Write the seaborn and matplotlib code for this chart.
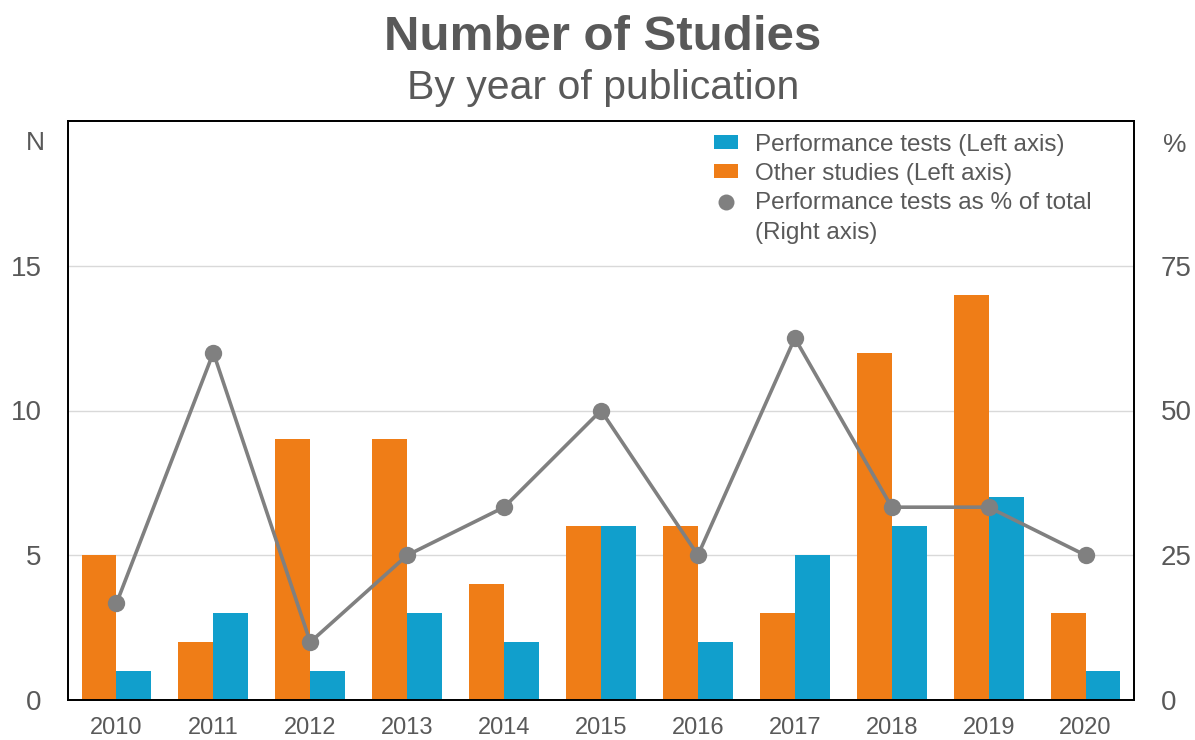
import matplotlib
matplotlib.use("Agg")
import matplotlib.pyplot as plt
import seaborn as sns
import pandas as pd
from matplotlib.patches import Patch
from matplotlib.lines import Line2D

years = ["2010", "2011", "2012", "2013", "2014", "2015", "2016", "2017", "2018", "2019", "2020"]
other_studies = [5, 2, 9, 9, 4, 6, 6, 3, 12, 14, 3]
performance_tests = [1, 3, 1, 3, 2, 6, 2, 5, 6, 7, 1]
perf_pct = [16.7, 60, 10, 25, 33.3, 50, 25, 62.5, 33.3, 33.3, 25]

ORANGE = "#EF7D17"
BLUE = "#119FCC"
GREY = "#808080"
TXT = "#595959"

sns.set_theme(style="white")
plt.rcParams["font.family"] = ["Liberation Sans", "DejaVu Sans"]

df = pd.DataFrame({
    "year": years * 2,
    "value": other_studies + performance_tests,
    "series": ["Other studies (Left axis)"] * len(years) + ["Performance tests (Left axis)"] * len(years),
})

fig = plt.figure(figsize=(11.95, 7.4), dpi=100)
ax = fig.add_axes([68 / 1195, 40 / 740, (1134 - 68) / 1195, (700 - 121) / 740])

sns.barplot(data=df, x="year", y="value", hue="series",
            hue_order=["Other studies (Left axis)", "Performance tests (Left axis)"],
            palette=[ORANGE, BLUE], width=0.72, saturation=1, ax=ax, legend=False)
for p in ax.patches:
    p.set_linewidth(0)

ax.set_xlim(-0.5, len(years) - 0.5)
ax.set_ylim(0, 20)
ax.set_yticks([0, 5, 10, 15])
ax.yaxis.grid(True, color="#d9d9d9", linewidth=1)
ax.set_axisbelow(True)
ax.set_xlabel("")
ax.set_ylabel("")
ax.tick_params(axis="y", length=0, pad=19, labelsize=20, labelcolor=TXT)
ax.tick_params(axis="x", length=0, pad=12.5, labelsize=17, labelcolor=TXT)
for s in ax.spines.values():
    s.set_color("black")
    s.set_linewidth(1.3)

ax2 = ax.twinx()
sns.lineplot(x=list(range(len(years))), y=perf_pct, ax=ax2, color=GREY,
             linewidth=2.6, marker="o", markersize=12.5, markeredgewidth=0, legend=False)
ax2.set_ylim(0, 100)
ax2.set_yticks([0, 25, 50, 75])
ax2.set_xlim(-0.5, len(years) - 0.5)
ax2.tick_params(axis="y", length=0, pad=19, labelsize=20, labelcolor=TXT)
ax2.grid(False)
for s in ax2.spines.values():
    s.set_color("black")
    s.set_linewidth(1.3)

handles = [
    Patch(facecolor=BLUE, edgecolor="none", label="Performance tests (Left axis)"),
    Patch(facecolor=ORANGE, edgecolor="none", label="Other studies (Left axis)"),
    Line2D([], [], color=GREY, marker="o", linestyle="none", markersize=11.5,
           markeredgewidth=0, label="Performance tests as % of total"),
    Line2D([], [], linestyle="none", marker=None, label="(Right axis)"),
]
leg = ax2.legend(handles=handles, loc="upper left", bbox_to_anchor=(0.606, 0.978),
                 frameon=False, fontsize=17.5, handlelength=1.0, handleheight=0.5,
                 handletextpad=0.7, labelspacing=0.3, borderpad=0, borderaxespad=0)
for t in leg.get_texts():
    t.set_color(TXT)

fig.text(603 / 1195, 1 - 37 / 740, "Number of Studies", ha="center", va="center",
         fontsize=35.5, fontweight="bold", color=TXT)
fig.text(603 / 1195, 1 - 88 / 740, "By year of publication", ha="center", va="center",
         fontsize=29.5, color=TXT)
fig.text(35 / 1195, 1 - 143 / 740, "N", ha="center", va="center", fontsize=19, color=TXT)
fig.text(1175 / 1195, 1 - 145 / 740, "%", ha="center", va="center", fontsize=19, color=TXT)

fig.savefig("out.png", dpi=100)
